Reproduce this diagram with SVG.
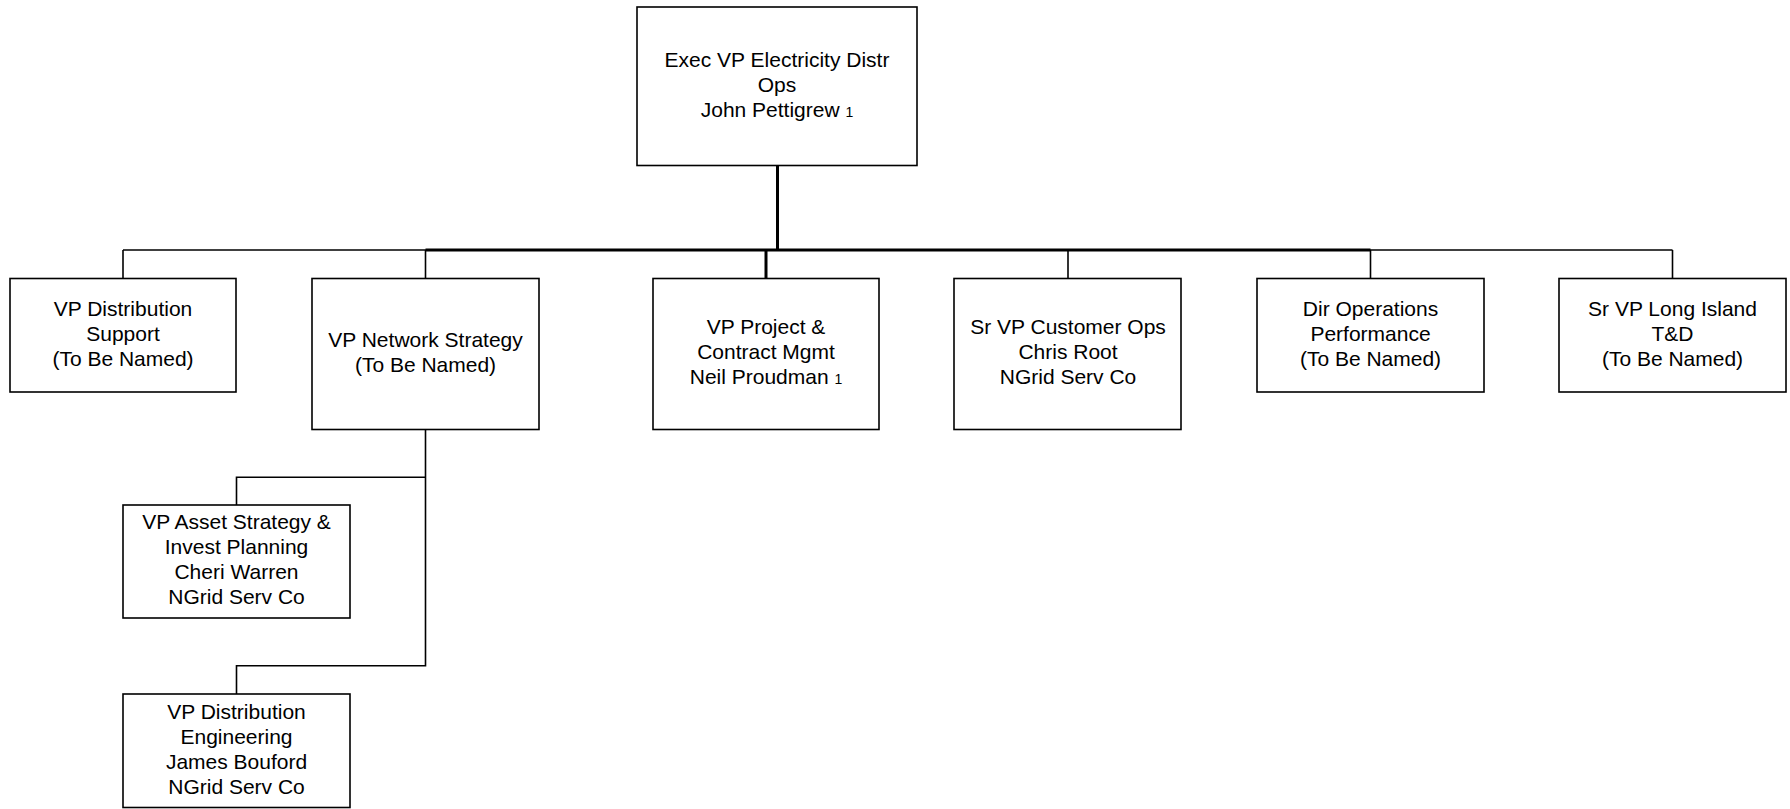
<svg xmlns="http://www.w3.org/2000/svg" width="1790" height="809" viewBox="0 0 1790 809">
<style>
.box{fill:#fff;stroke:#000;stroke-width:1.6}
.t{font-family:"Liberation Sans",Arial,sans-serif;font-size:21px;fill:#000;text-anchor:middle}
.s{font-size:14px}
.c{fill:none;stroke:#000;stroke-width:1.6}
.k{fill:none;stroke:#000;stroke-width:3}
</style>
<rect width="1790" height="809" fill="#fff"/>
<g id="connectors">
<line class="c" x1="123" y1="250" x2="1672.5" y2="250"/>
<line class="k" x1="425.5" y1="250" x2="1370.5" y2="250"/>
<line class="k" x1="777.5" y1="165.5" x2="777.5" y2="250"/>
<line class="c" x1="123" y1="250" x2="123" y2="278.5"/>
<line class="c" x1="425.5" y1="250" x2="425.5" y2="278.5"/>
<line class="k" x1="766" y1="250" x2="766" y2="278.5"/>
<line class="c" x1="1068" y1="250" x2="1068" y2="278.5"/>
<line class="c" x1="1370.5" y1="250" x2="1370.5" y2="278.5"/>
<line class="c" x1="1672.5" y1="250" x2="1672.5" y2="278.5"/>
<polyline class="c" points="425.5,429.5 425.5,665.7 236.5,665.7 236.5,694"/>
<polyline class="c" points="425.5,477.3 236.5,477.3 236.5,505"/>
</g>
<g id="n-exec">
<rect class="box" x="637" y="7" width="280" height="158.5"/>
<text class="t" x="777" y="67">Exec VP Electricity Distr</text>
<text class="t" x="777" y="92">Ops</text>
<text class="t" x="777" y="117">John Pettigrew <tspan class="s">1</tspan></text>
</g>
<g id="n-distsupport">
<rect class="box" x="10" y="278.5" width="226" height="113.5"/>
<text class="t" x="123" y="316">VP Distribution</text>
<text class="t" x="123" y="341">Support</text>
<text class="t" x="123" y="366">(To Be Named)</text>
</g>
<g id="n-network">
<rect class="box" x="312" y="278.5" width="227" height="151"/>
<text class="t" x="425.5" y="347">VP Network Strategy</text>
<text class="t" x="425.5" y="372">(To Be Named)</text>
</g>
<g id="n-project">
<rect class="box" x="653" y="278.5" width="226" height="151"/>
<text class="t" x="766" y="334">VP Project &amp;</text>
<text class="t" x="766" y="359">Contract Mgmt</text>
<text class="t" x="766" y="384">Neil Proudman <tspan class="s">1</tspan></text>
</g>
<g id="n-customer">
<rect class="box" x="954" y="278.5" width="227" height="151"/>
<text class="t" x="1068" y="334">Sr VP Customer Ops</text>
<text class="t" x="1068" y="359">Chris Root</text>
<text class="t" x="1068" y="384">NGrid Serv Co</text>
</g>
<g id="n-opsperf">
<rect class="box" x="1257" y="278.5" width="227" height="113.5"/>
<text class="t" x="1370.5" y="316">Dir Operations</text>
<text class="t" x="1370.5" y="341">Performance</text>
<text class="t" x="1370.5" y="366">(To Be Named)</text>
</g>
<g id="n-longisland">
<rect class="box" x="1559" y="278.5" width="227" height="113.5"/>
<text class="t" x="1672.5" y="316">Sr VP Long Island</text>
<text class="t" x="1672.5" y="341">T&amp;D</text>
<text class="t" x="1672.5" y="366">(To Be Named)</text>
</g>
<g id="n-asset">
<rect class="box" x="123" y="505" width="227" height="113"/>
<text class="t" x="236.5" y="529">VP Asset Strategy &amp;</text>
<text class="t" x="236.5" y="554">Invest Planning</text>
<text class="t" x="236.5" y="579">Cheri Warren</text>
<text class="t" x="236.5" y="604">NGrid Serv Co</text>
</g>
<g id="n-disteng">
<rect class="box" x="123" y="694" width="227" height="113.5"/>
<text class="t" x="236.5" y="718.5">VP Distribution</text>
<text class="t" x="236.5" y="743.5">Engineering</text>
<text class="t" x="236.5" y="768.5">James Bouford</text>
<text class="t" x="236.5" y="793.5">NGrid Serv Co</text>
</g>
</svg>
